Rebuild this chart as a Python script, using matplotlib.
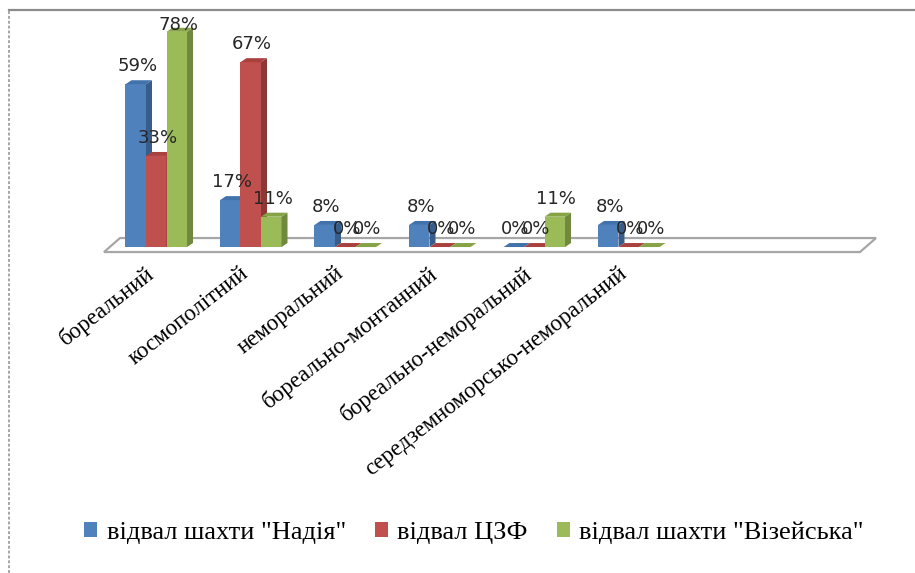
import matplotlib
matplotlib.use('Agg')
import matplotlib.pyplot as plt
from matplotlib.patches import Polygon, Rectangle
from matplotlib.lines import Line2D

categories = ['бореальний', 'космополітний', 'неморальний', 'бореально-монтанний',
              'бореально-неморальний', 'середземноморсько-неморальний']
series_names = ['відвал шахти "Надія"', 'відвал ЦЗФ', 'відвал шахти "Візейська"']
nadiya = [59, 17, 8, 8, 0, 8]
czf = [33, 67, 0, 0, 0, 0]
vizeyska = [78, 11, 0, 0, 11, 0]
series = [nadiya, czf, vizeyska]

front_colors = ['#4F81BD', '#C0504D', '#9BBB59']
side_colors = ['#385D8A', '#8C3836', '#71893F']
top_colors = ['#4272AC', '#A9423F', '#86A346']

W, H = 915, 573
fig = plt.figure(figsize=(W / 100, H / 100), dpi=100)
fig.patch.set_facecolor('white')

ax = fig.add_axes([109 / W, 1 - 252 / H, 756 / W, 242 / H])
ymin, ymax = -1.8, 85.9
ax.set_xlim(-0.5, 7.5)
ax.set_ylim(ymin, ymax)
ax.axis('off')

# size of one pixel in data units, used for the fake 3d depth
px_x = 8 / 756
px_y = (ymax - ymin) / 242
dx, dy = 6 * px_x, 4 * px_y
bw = 0.217
label_cap = 74

# floor slab
x0, x1 = ax.get_xlim()
floor = Polygon([(x0 - 5 * px_x, -5 * px_y), (x1 - 5 * px_x, -5 * px_y),
                 (x1 + 11 * px_x, 9 * px_y), (x0 + 11 * px_x, 9 * px_y)],
                closed=True, facecolor='white', edgecolor='#A6A6A6', lw=1.6,
                zorder=1, clip_on=False)
ax.add_patch(floor)

for j, vals in enumerate(series):
    z = 2 + j
    xs = [i + (j - 1) * bw for i in range(len(vals))]
    ax.bar(xs, vals, width=bw, color=front_colors[j], zorder=z, linewidth=0)
    for xc, v in zip(xs, vals):
        l, r = xc - bw / 2, xc + bw / 2
        side = Polygon([(r, 0), (r + dx, dy), (r + dx, v + dy), (r, v)],
                       closed=True, facecolor=side_colors[j], lw=0, zorder=z + 0.1)
        top = Polygon([(l, v), (r, v), (r + dx, v + dy), (l + dx, v + dy)],
                      closed=True, facecolor=top_colors[j], lw=0, zorder=z + 0.1)
        ax.add_patch(side)
        ax.add_patch(top)
        ax.annotate(f'{v}%', (xc, min(v, label_cap)), xytext=(1, 13),
                    textcoords='offset points', ha='center', va='center',
                    fontsize=13, color='#262626', family='DejaVu Sans',
                    zorder=10, annotation_clip=False)

for i, name in enumerate(categories):
    ax.text(i + 0.02, -5.6, name, rotation=38, ha='right', va='top',
            fontsize=16.5, family='Liberation Serif', color='black', clip_on=False)

handles = [Rectangle((0, 0), 1, 1, facecolor=c, lw=0) for c in front_colors]
fig.legend(handles, series_names, loc='center', bbox_to_anchor=(474 / W, 1 - 533 / H),
           ncol=3, frameon=False, handlelength=0.5, handleheight=0.5,
           handletextpad=0.35, columnspacing=1.1,
           prop={'family': 'Liberation Serif', 'size': 19})

# chart frame
fig.add_artist(Line2D([9 / W, 1], [1 - 9.5 / H] * 2, color='#8C8C8C', lw=1.6,
                      transform=fig.transFigure))
fig.add_artist(Line2D([9 / W] * 2, [0, 1 - 9.5 / H], color='#A6A6A6', lw=1.4,
                      ls=(0, (1.5, 1)), transform=fig.transFigure))

fig.savefig('out.png', dpi=100, facecolor='white')
